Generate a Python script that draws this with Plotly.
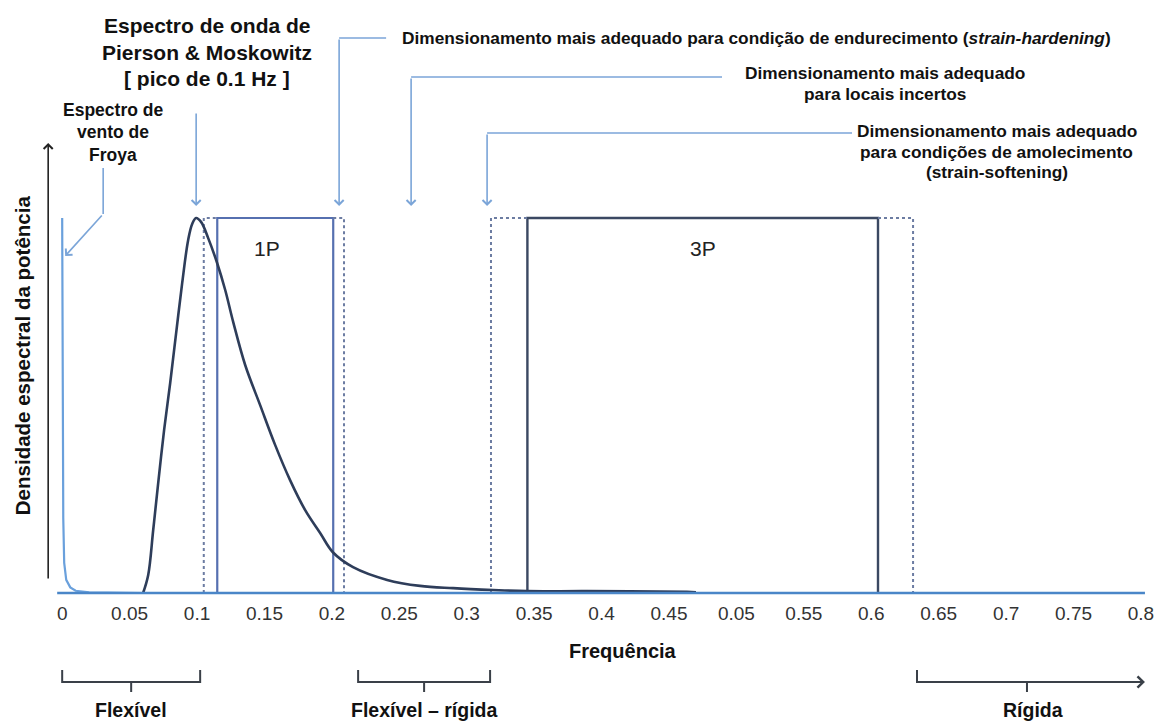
import plotly.graph_objects as go

# ---------------- data ----------------
# Pierson & Moskowitz wave spectrum (normalised power spectral density)
pm_freq = [0.060, 0.0638, 0.0675, 0.0712, 0.0756, 0.0801, 0.0845, 0.0890, 0.0934, 0.0964,
           0.0993, 0.1031, 0.1082, 0.1149, 0.1209, 0.1268, 0.1357, 0.1468, 0.1579, 0.1690,
           0.1802, 0.1913, 0.2009, 0.2157, 0.2410, 0.2654, 0.2899, 0.3196, 0.3447, 0.3892,
           0.4634, 0.4700]
pm_density = [0.0, 0.048, 0.168, 0.293, 0.435, 0.560, 0.693, 0.827, 0.941, 0.984,
              1.0, 0.989, 0.947, 0.880, 0.808, 0.723, 0.608, 0.501, 0.395, 0.301,
              0.221, 0.160, 0.108, 0.069, 0.035, 0.019, 0.013, 0.008, 0.005, 0.005,
              0.003, 0.002]

# Froya wind spectrum (normalised)
froya_freq = [0.0, 0.0003, 0.0008, 0.0015, 0.003, 0.006, 0.010, 0.020, 0.060]
froya_density = [1.0, 0.55, 0.20, 0.08, 0.035, 0.015, 0.006, 0.002, 0.0]

# Rotor frequency bands (Hz)
band_1p = [0.115, 0.201]
band_1p_margin = [0.105, 0.209]
band_3p = [0.345, 0.605]
band_3p_margin = [0.318, 0.631]
band_height = 1.0

tick_vals = [0, 0.05, 0.1, 0.15, 0.2, 0.25, 0.3, 0.35, 0.4, 0.45, 0.5, 0.55, 0.6, 0.65, 0.7, 0.75, 0.8]
tick_text = ["0", "0.05", "0.1", "0.15", "0.2", "0.25", "0.3", "0.35", "0.4", "0.45", "0.05",
             "0.55", "0.6", "0.65", "0.7", "0.75", "0.8"]

# ---------------- layout helpers ----------------
W, H = 1164, 724
PX_PER_HZ = 1348.75
X0_PX = 62.0          # pixel of f = 0
PX_PER_UNIT = 375.0   # pixel per unit density
Y0_PX = 593.0         # pixel of density = 0
PLOT_BOTTOM = 600.0
XMIN, XMAX = -0.012, 0.803
L = X0_PX + XMIN * PX_PER_HZ
R = X0_PX + XMAX * PX_PER_HZ
YMIN = -(PLOT_BOTTOM - Y0_PX) / PX_PER_UNIT
YMAX = Y0_PX / PX_PER_UNIT


def fx(px):
    return (px - X0_PX) / PX_PER_HZ


def fy(py):
    return (Y0_PX - py) / PX_PER_UNIT


def qx(px):
    return (px - L) / (R - L)


def qy(py):
    return (PLOT_BOTTOM - py) / PLOT_BOTTOM


FONT = "Liberation Sans, Arial, sans-serif"
C_CURVE = "#2e3d5a"
C_1P = "#5670b0"
C_3P = "#3b4862"
C_DOT = "#6c7ca2"
C_ARROW = "#7ba5d8"
C_BASE = "#4a86c8"
C_FROYA = "#6aa0dc"

fig = go.Figure()

# band rectangles (open bottom)
fig.add_trace(go.Scatter(x=[band_1p[0], band_1p[0], band_1p[1], band_1p[1]],
                         y=[0, band_height, band_height, 0], mode="lines",
                         line=dict(color=C_1P, width=2.2), hoverinfo="skip"))
fig.add_trace(go.Scatter(x=[band_3p[0], band_3p[0], band_3p[1], band_3p[1]],
                         y=[0, band_height, band_height, 0], mode="lines",
                         line=dict(color=C_3P, width=2.4), hoverinfo="skip"))
for lo, hi, band in [(band_1p_margin[0], band_1p_margin[1], band_1p),
                     (band_3p_margin[0], band_3p_margin[1], band_3p)]:
    fig.add_trace(go.Scatter(x=[lo, lo, band[0]], y=[0, band_height, band_height], mode="lines",
                             line=dict(color=C_DOT, width=2, dash="dot"), hoverinfo="skip"))
    fig.add_trace(go.Scatter(x=[band[1], hi, hi], y=[band_height, band_height, 0], mode="lines",
                             line=dict(color=C_DOT, width=2, dash="dot"), hoverinfo="skip"))

# spectra
fig.add_trace(go.Scatter(x=froya_freq, y=froya_density, mode="lines",
                         line=dict(color=C_FROYA, width=2.2), hoverinfo="skip"))
fig.add_trace(go.Scatter(x=pm_freq, y=pm_density, mode="lines", line_shape="spline",
                         line=dict(color=C_CURVE, width=2.6), hoverinfo="skip"))

shapes = []
# baseline (x axis line)
shapes.append(dict(type="line", xref="x", yref="y", x0=fx(57), x1=fx(1145), y0=0, y1=0,
                   line=dict(color=C_BASE, width=2.5), layer="above"))

# bent arrow horizontal segments
for (px_a, px_b, py) in [(339, 386, 38), (411, 722, 77), (487, 852, 133)]:
    shapes.append(dict(type="line", xref="x", yref="y", x0=fx(px_a), x1=fx(px_b),
                       y0=fy(py), y1=fy(py), line=dict(color=C_ARROW, width=1.6)))
# Froya bent arrow vertical segment
shapes.append(dict(type="line", xref="x", yref="y", x0=fx(103), x1=fx(103),
                   y0=fy(168), y1=fy(214), line=dict(color=C_ARROW, width=1.6)))


# brackets below the axis
def bracket(x_a, x_b, xc, py, up=12, down=10, right_open=False):
    p = f"M {qx(x_a)},{qy(py - up)} L {qx(x_a)},{qy(py)} L {qx(x_b)},{qy(py)}"
    if not right_open:
        p += f" L {qx(x_b)},{qy(py - up)}"
    p += f" M {qx(xc)},{qy(py)} L {qx(xc)},{qy(py + down)}"
    return dict(type="path", xref="paper", yref="paper", path=p,
                line=dict(color="#3a4048", width=2))


shapes.append(bracket(62, 200, 131, 682))
shapes.append(bracket(358, 490, 424, 682))
shapes.append(bracket(917, 1140, 1027, 682, right_open=True))

annotations = []


def arrow(x_tip, y_tip, x_tail, y_tail, color=C_ARROW, width=1.6, head=4):
    annotations.append(dict(x=x_tip, y=y_tip, ax=x_tail, ay=y_tail, xref="x", yref="y",
                            axref="x", ayref="y", text="", showarrow=True,
                            arrowhead=head, arrowsize=1.1, arrowwidth=width, arrowcolor=color))


# arrows pointing down to the chart
arrow(fx(196), fy(206), fx(196), fy(112))
arrow(fx(339), fy(206), fx(339), fy(38))
arrow(fx(411), fy(206), fx(411), fy(77))
arrow(fx(487), fy(206), fx(487), fy(133))
arrow(fx(65), fy(256), fx(103), fy(214))
# y axis arrow
arrow(fx(48), fy(143), fx(48), fy(580), color="#222222", width=1.6)
# Rígida arrow head
annotations.append(dict(x=qx(1145), y=qy(682), ax=-20, ay=0, xref="paper", yref="paper",
                        axref="pixel", ayref="pixel", text="", showarrow=True, arrowhead=4,
                        arrowsize=1.1, arrowwidth=2, arrowcolor="#3a4048"))


def text(x, y, s, size, bold=True, xanchor="center", ref="data", color="#111111", angle=0):
    annotations.append(dict(x=x, y=y, xref="x" if ref == "data" else "paper",
                            yref="y" if ref == "data" else "paper", text=f"<b>{s}</b>" if bold else s,
                            showarrow=False, xanchor=xanchor, yanchor="middle", textangle=angle,
                            font=dict(family=FONT, size=size, color=color), align="center"))


def lines(xc, ys, strs, size, **kw):
    for y, s in zip(ys, strs):
        text(fx(xc), fy(y), s, size, **kw)


lines(207, [25, 52, 78], ["Espectro de onda de", "Pierson &amp; Moskowitz", "[ pico de 0.1 Hz ]"], 21)
lines(113, [110, 132, 155], ["Espectro de", "vento de", "Froya"], 17.5)
text(fx(400), fy(38), "Dimensionamento mais adequado para condição de endurecimento (<i>strain-hardening</i>)", 17.3,
     xanchor="left")
lines(885, [73, 94], ["Dimensionamento mais adequado", "para locais incertos"], 17.3)
lines(997, [131, 152, 172], ["Dimensionamento mais adequado", "para condições de amolecimento",
                             "(strain-softening)"], 17.3)
text(fx(267), fy(248), "1P", 21, bold=False, color="#222222")
text(fx(703), fy(248), "3P", 21, bold=False, color="#222222")
text(qx(22), qy(355), "Densidade espectral da potência", 20.5, ref="paper", angle=-90)
text(qx(623), qy(651), "Frequência", 20, ref="paper")
text(qx(131), qy(710), "Flexível", 19.5, ref="paper")
text(qx(424), qy(710), "Flexível – rígida", 19.5, ref="paper")
text(qx(1033), qy(710), "Rígida", 19.5, ref="paper")

fig.update_layout(
    width=W, height=H,
    margin=dict(l=L, r=W - R, t=0, b=H - PLOT_BOTTOM, pad=0),
    paper_bgcolor="white", plot_bgcolor="white",
    showlegend=False,
    shapes=shapes, annotations=annotations,
    xaxis=dict(range=[XMIN, XMAX], tickvals=tick_vals, ticktext=tick_text, showgrid=False,
               zeroline=False, showline=False, ticks="",
               tickfont=dict(family=FONT, size=19, color="#333333")),
    yaxis=dict(range=[YMIN, YMAX], showgrid=False, zeroline=False, showline=False,
               showticklabels=False, ticks=""),
)

fig.write_html("out.html")
